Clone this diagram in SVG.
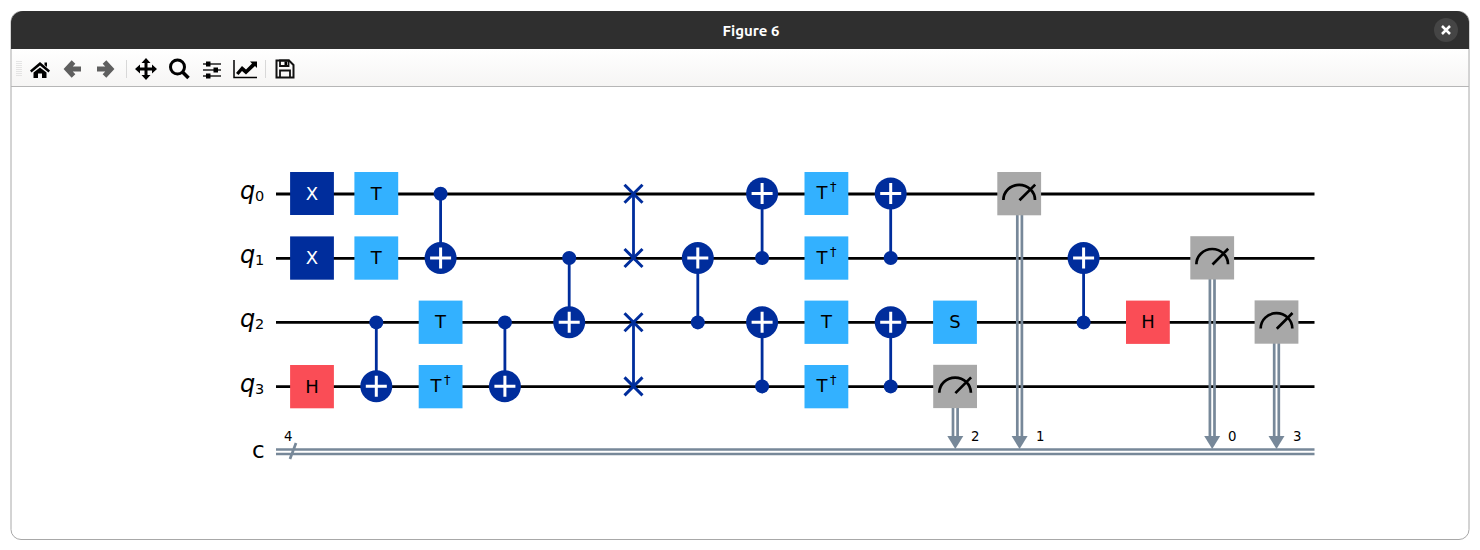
<svg xmlns="http://www.w3.org/2000/svg" width="1480" height="550" viewBox="0 0 1480 550">
<style>
text{font-family:"DejaVu Sans",sans-serif}
.w{stroke:#000;stroke-width:2.800;fill:none}
.c{stroke:#778899;stroke-width:2.700;fill:none}
.b{stroke:#002d9c;stroke-width:2.800;fill:none}
.d{fill:#002d9c}
.l{font-size:18px;text-anchor:middle;fill:#000}
.lw{font-size:18px;text-anchor:middle;fill:#fff}
.q{font-style:italic;font-size:24px;fill:#000}
.sub{font-size:14.500px;fill:#000}
.n{font-size:13.300px;fill:#000}
.dag{font-size:13px;fill:#000}
.ic{fill:#000}
.gr{fill:none;stroke:#5f5f5f;stroke-width:5}
</style>
<defs>
<g id="plus"><circle r="16" fill="#002d9c"/><path d="M-10.500 0H10.500M0-10.500V10.500" stroke="#fff" stroke-width="3" fill="none"/></g>
<g id="x"><path d="M-9-9L9 9M-9 9L9-9" stroke="#002d9c" stroke-width="3" fill="none"/></g>
<g id="meter"><rect x="-21.900" y="-21.800" width="43.800" height="43.300" fill="#a8a8a8"/><path d="M-15.800 6.200A15.800 15.200 0 0 1 15.800 6.200M0.300 6.500L16-9.200" fill="none" stroke="#000" stroke-width="2.700"/></g>
<g id="dagT"><text class="l" x="-4.500" y="5.500">T</text><text class="dag" x="3.500" y="-2.500">†</text></g>
<path id="arrow" d="M-8-6H8L0 7Z" fill="#778899"/>
<linearGradient id="tb" x1="0" y1="0" x2="0" y2="1"><stop offset="0" stop-color="#ffffff"/><stop offset="1" stop-color="#f6f5f4"/></linearGradient>
</defs>
<rect width="1480" height="550" fill="#fff"/>
<g id="window">
<rect x="11" y="11.500" width="1458" height="528" rx="10" fill="#fff" stroke="#a8a8a8"/>
<path d="M11 49V23A12 12 0 0 1 23 11H1457A12 12 0 0 1 1469 23V49Z" fill="#2f2f2f"/>
<text x="751" y="36" font-size="15" font-weight="700" text-anchor="middle" fill="#fff" style="font-family:'Ubuntu','Noto Sans',sans-serif">Figure 6</text>
<circle cx="1446" cy="30" r="12" fill="#454545"/>
<path d="M1442 26L1450 34M1450 26L1442 34" stroke="#fff" stroke-width="2.500"/>
<rect x="12" y="49" width="1456" height="37" fill="url(#tb)"/>
<path d="M11 86.500H1469" stroke="#b6b6b6"/>
</g>
<g id="toolbar">
<path d="M17 61V77M19 61V77M21 61V77" stroke="#cfcfcf" stroke-dasharray="1 1" fill="none"/>
<path class="ic" d="M40 62L50 70.500 48.500 72.500 40 65.500 31.500 72.500 30 70.500ZM33.500 72.500L40 67.500 46.500 72.500V78H42V73.500H38V78H33.500ZM44.500 62.500H47V67L44.500 65Z"/>
<path class="gr" d="M81 69H68M73.500 62L67 69 73.500 76"/>
<path class="gr" d="M97 69H110M104.500 62L111 69 104.500 76"/>
<path d="M126.500 60V78M265.500 60V78" stroke="#d8d8d8" fill="none"/>
<path class="ic" d="M146 58L150.500 63H147.500V67.500H152V64.500L157 69 152 73.500V70.500H147.500V75H150.500L146 80 141.500 75H144.500V70.500H140V73.500L135 69 140 64.500V67.500H144.500V63H141.500Z"/>
<circle cx="177.500" cy="67" r="7" fill="none" stroke="#000" stroke-width="3"/>
<path d="M182.500 72L188.500 78" stroke="#000" stroke-width="3.500" fill="none"/>
<path d="M203 64H221M203 70H221M203 76H221" stroke="#222" stroke-width="1.500" fill="none"/>
<rect x="206" y="61.500" width="4.500" height="5" class="ic"/><rect x="213.500" y="67.500" width="4.500" height="5" class="ic"/><rect x="206" y="73.500" width="4.500" height="5" class="ic"/>
<path d="M234 60V77.500H257" stroke="#000" stroke-width="1.500" fill="none"/>
<path class="ic" d="M236 73L242 66 246 69.500 252 63.500 250 61.500H257V68L255 66 246 74.500 242 71 238.500 75Z"/>
<path d="M276.500 60.500H289L293.500 65V77.500H276.500Z" fill="none" stroke="#111" stroke-width="2"/>
<path d="M280 60.500H288.500V66H280ZM280 77V70.500H290V77" fill="none" stroke="#111" stroke-width="1.800"/>
<rect x="284.500" y="61.500" width="2.500" height="3.500" class="ic"/>
</g>
<g id="connectors">
<path class="w" d="M276 194H1314.500M276 258.300H1314.500M276 322.400H1314.500M276 386.600H1314.500"/>
<path class="c" d="M276 449.500H1314.500M276 454H1314.500M290 459L296 443"/>
<path class="b" d="M440.600 194V258M376.300 322V386M504.900 322V386M569.200 258V322M633.500 194V258M633.500 322V386M697.800 258V322M762.100 194V258M762.100 322V386M890.700 194V258M890.700 322V386M1083.600 258V322"/>
<path class="c" d="M953 408V438M957.600 408V438M1017.300 215V438M1021.900 215V438M1209.900 279V438M1214.500 279V438M1274.200 343V438M1278.800 343V438"/>
</g>
<g id="labels">
<text class="q" x="240" y="199">q</text><text class="sub" x="255" y="201">0</text>
<text class="q" x="240" y="263.300">q</text><text class="sub" x="255" y="265.300">1</text>
<text class="q" x="240" y="327.400">q</text><text class="sub" x="255" y="329.400">2</text>
<text class="q" x="240" y="391.600">q</text><text class="sub" x="255" y="393.600">3</text>
<text x="252" y="458" font-size="23" fill="#000">c</text>
<text class="n" x="284" y="441">4</text>
<text class="n" x="971" y="441">2</text>
<text class="n" x="1036" y="441">1</text>
<text class="n" x="1228" y="441">0</text>
<text class="n" x="1293" y="441">3</text>
</g>
<g id="x0"><rect x="290.100" y="172" width="43.800" height="43" fill="#002d9c"/><text class="lw" x="312" y="199.500">X</text></g>
<g id="x1"><rect x="290.100" y="236.400" width="43.800" height="43.300" fill="#002d9c"/><text class="lw" x="312" y="264">X</text></g>
<g id="h3"><rect x="290.100" y="365" width="43.800" height="43.300" fill="#fa4d56"/><text class="l" x="312" y="392.500">H</text></g>
<g id="t0"><rect x="354.400" y="172" width="43.800" height="43" fill="#33b1ff"/><text class="l" x="376.300" y="199.500">T</text></g>
<g id="t1"><rect x="354.400" y="236.400" width="43.800" height="43.300" fill="#33b1ff"/><text class="l" x="376.300" y="264">T</text></g>
<g id="cx1"><circle class="d" cx="376.300" cy="322.400" r="7"/><use href="#plus" x="376.300" y="386.300"/></g>
<g id="cx2"><circle class="d" cx="440.600" cy="193.800" r="7"/><use href="#plus" x="440.600" y="258"/></g>
<g id="t2"><rect x="418.700" y="300.600" width="43.800" height="43.300" fill="#33b1ff"/><text class="l" x="440.600" y="328">T</text></g>
<g id="tdg3"><rect x="418.700" y="365" width="43.800" height="43.300" fill="#33b1ff"/><use href="#dagT" x="440.600" y="386.500"/></g>
<g id="cx3"><circle class="d" cx="504.900" cy="322.400" r="7"/><use href="#plus" x="504.900" y="386.300"/></g>
<g id="cx4"><circle class="d" cx="569.200" cy="258" r="7"/><use href="#plus" x="569.200" y="322.200"/></g>
<g id="swap1"><use href="#x" x="633.500" y="193.800"/><use href="#x" x="633.500" y="258"/></g>
<g id="swap2"><use href="#x" x="633.500" y="322.300"/><use href="#x" x="633.500" y="386.400"/></g>
<g id="cx5"><circle class="d" cx="697.800" cy="322.400" r="7"/><use href="#plus" x="697.800" y="258"/></g>
<g id="cx6"><circle class="d" cx="762.100" cy="258" r="7"/><use href="#plus" x="762.100" y="193.500"/></g>
<g id="cx7"><circle class="d" cx="762.100" cy="386.400" r="7"/><use href="#plus" x="762.100" y="322.200"/></g>
<g id="tdg0"><rect x="804.500" y="172" width="43.800" height="43" fill="#33b1ff"/><use href="#dagT" x="826.400" y="193.500"/></g>
<g id="tdg1"><rect x="804.500" y="236.400" width="43.800" height="43.300" fill="#33b1ff"/><use href="#dagT" x="826.400" y="258"/></g>
<g id="t2b"><rect x="804.500" y="300.600" width="43.800" height="43.300" fill="#33b1ff"/><text class="l" x="826.400" y="328">T</text></g>
<g id="tdg3b"><rect x="804.500" y="365" width="43.800" height="43.300" fill="#33b1ff"/><use href="#dagT" x="826.400" y="386.500"/></g>
<g id="cx8"><circle class="d" cx="890.700" cy="258" r="7"/><use href="#plus" x="890.700" y="193.500"/></g>
<g id="cx9"><circle class="d" cx="890.700" cy="386.400" r="7"/><use href="#plus" x="890.700" y="322.200"/></g>
<g id="s2"><rect x="933.100" y="300.600" width="43.800" height="43.300" fill="#33b1ff"/><text class="l" x="955" y="328">S</text></g>
<g id="m3"><use href="#meter" x="955.100" y="386.600"/><use href="#arrow" x="955.300" y="442"/></g>
<g id="m0"><use href="#meter" x="1019.200" y="193.800"/><use href="#arrow" x="1019.600" y="442"/></g>
<g id="cx10"><circle class="d" cx="1083.600" cy="322.400" r="7"/><use href="#plus" x="1083.600" y="258"/></g>
<g id="h2"><rect x="1126" y="300.600" width="43.800" height="43.300" fill="#fa4d56"/><text class="l" x="1147.900" y="328">H</text></g>
<g id="m1"><use href="#meter" x="1212.200" y="258"/><use href="#arrow" x="1212.200" y="442"/></g>
<g id="m2"><use href="#meter" x="1276.500" y="322.200"/><use href="#arrow" x="1276.500" y="442"/></g>
</svg>
